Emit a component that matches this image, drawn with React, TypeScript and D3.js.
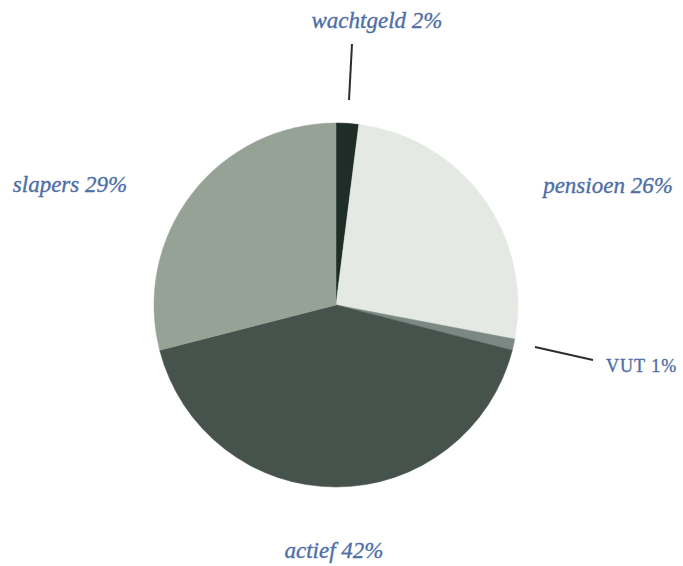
import React from "react";
import * as d3 from "d3";

const categories = ["wachtgeld", "pensioen", "VUT", "actief", "slapers"];
const shares = [2, 26, 1, 42, 29];
const sliceColors = ["#1f2d28", "#e4eae3", "#7b8884", "#46524c", "#97a297"];
const labelTexts = ["wachtgeld 2%", "pensioen 26%", "VUT 1%", "actief 42%", "slapers 29%"];

const W = 683;
const H = 566;
const cx = 336;
const cy = 305;
const radius = 182;

type LabelSpec = { x: number; y: number; anchor: string; smallCaps?: boolean; leader?: [number, number, number, number] };

// label placement per slice
const labelSpecs: LabelSpec[] = [
  { x: 377, y: 28, anchor: "middle", leader: [352, 44, 349, 100] },
  { x: 608, y: 193, anchor: "middle" },
  { x: 606, y: 372, anchor: "start", smallCaps: true, leader: [535, 347, 593, 360] },
  { x: 334, y: 558, anchor: "middle" },
  { x: 70, y: 192, anchor: "middle" },
];

export default function App() {
  const data = categories.map((c, i) => ({ name: c, value: shares[i], color: sliceColors[i] }));
  const pie = d3.pie<any>().sort(null).value((d: any) => d.value);
  const arcs = pie(data);
  const arc = d3.arc<any>().innerRadius(0).outerRadius(radius);

  return (
    <svg width={W} height={H} style={{ position: "absolute", left: 0, top: 0, background: "#fff" }}>
      <g transform={`translate(${cx},${cy})`}>
        {arcs.map((a, i) => (
          <path key={categories[i]} d={arc(a) || ""} fill={a.data.color} stroke={a.data.color} strokeWidth={0.5} />
        ))}
      </g>
      {labelSpecs.map((s, i) =>
        s.leader ? (
          <line key={"l" + i} x1={s.leader[0]} y1={s.leader[1]} x2={s.leader[2]} y2={s.leader[3]} stroke="#2a2e2c" strokeWidth={2} />
        ) : null
      )}
      {labelSpecs.map((s, i) => (
        <text
          key={"t" + i}
          x={s.x}
          y={s.y}
          textAnchor={s.anchor}
          fill="#4e6ea6"
          stroke="#4e6ea6"
          strokeWidth={0.35}
          fontFamily="'Liberation Serif', serif"
          fontStyle={s.smallCaps ? "normal" : "italic"}
          fontSize={s.smallCaps ? 18 : 23}
          letterSpacing={s.smallCaps ? 1 : 0}
        >
          {labelTexts[i]}
        </text>
      ))}
    </svg>
  );
}
